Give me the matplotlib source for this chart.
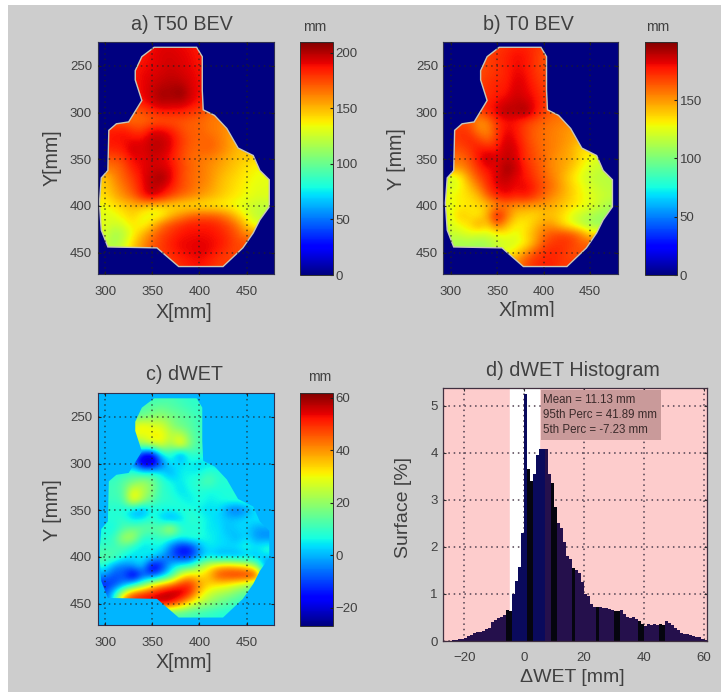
import numpy as np
import matplotlib
matplotlib.use('Agg')
import matplotlib.pyplot as plt
from matplotlib.patches import Polygon, Rectangle

plt.rcParams['font.family'] = ['Liberation Sans', 'DejaVu Sans']

W, H = 721, 692
GREY = '#cdcdcd'
TXT = '#404040'

# сетка карт, мм
grid_x = list(range(300, 490, 10))
grid_y = list(range(230, 480, 10))

# контур поля
outline_x = [352, 397, 403, 403, 404, 416, 429, 441, 457, 464, 474, 474, 464, 457, 446, 425, 378,
             355, 303, 296, 294, 296, 303, 304, 312, 325, 339, 332, 332, 339]
outline_y = [230, 230, 240, 276, 297, 303, 317, 338, 346, 362, 372, 401, 415, 429, 445, 465, 465,
             445, 444, 426, 397, 370, 362, 319, 312, 310, 287, 265, 255, 240]

t50_wet = [
    [185, 185, 185, 185, 185, 188, 192, 192, 190, 188, 186, 186, 186, 186, 186, 186, 186, 186, 186],
    [186, 186, 186, 186, 186, 190, 193, 194, 192, 190, 186, 186, 186, 186, 186, 186, 186, 186, 186],
    [185, 185, 185, 185, 188, 190, 193, 195, 193, 190, 187, 187, 187, 187, 187, 187, 187, 187, 187],
    [186, 186, 186, 186, 190, 192, 195, 197, 195, 192, 188, 188, 188, 188, 188, 188, 188, 188, 188],
    [186, 186, 186, 186, 190, 195, 198, 200, 200, 194, 188, 188, 188, 188, 188, 188, 188, 188, 188],
    [185, 185, 185, 185, 190, 196, 204, 202, 208, 196, 188, 188, 188, 188, 188, 188, 188, 188, 188],
    [186, 186, 186, 186, 186, 194, 200, 198, 198, 192, 186, 180, 180, 180, 180, 180, 180, 180, 180],
    [165, 165, 165, 168, 172, 180, 184, 184, 184, 180, 176, 168, 165, 165, 165, 165, 165, 165, 165],
    [172, 172, 170, 168, 168, 170, 172, 172, 172, 170, 168, 165, 163, 160, 160, 160, 160, 160, 160],
    [185, 185, 188, 180, 178, 192, 192, 186, 176, 170, 170, 165, 163, 158, 158, 158, 158, 158, 158],
    [187, 187, 188, 190, 190, 198, 198, 192, 180, 172, 168, 170, 165, 158, 150, 150, 150, 150, 150],
    [183, 183, 186, 196, 192, 198, 198, 190, 178, 170, 168, 170, 165, 158, 150, 148, 148, 148, 148],
    [172, 172, 178, 190, 190, 195, 192, 186, 176, 168, 165, 162, 158, 152, 148, 145, 142, 140, 140],
    [165, 165, 172, 185, 190, 195, 195, 190, 178, 170, 165, 160, 155, 150, 145, 140, 136, 134, 134],
    [145, 160, 170, 178, 190, 198, 205, 192, 176, 168, 165, 160, 152, 146, 142, 137, 134, 132, 132],
    [145, 155, 165, 175, 188, 200, 195, 186, 176, 170, 162, 158, 150, 145, 140, 136, 132, 131, 131],
    [140, 150, 160, 168, 185, 196, 186, 176, 168, 162, 158, 152, 148, 142, 138, 134, 130, 130, 130],
    [135, 140, 145, 150, 150, 145, 145, 142, 140, 140, 138, 138, 136, 135, 132, 128, 124, 122, 122],
    [130, 132, 140, 145, 135, 130, 132, 148, 158, 166, 170, 170, 168, 160, 145, 132, 122, 120, 120],
    [132, 125, 130, 140, 132, 145, 165, 175, 180, 185, 185, 185, 182, 175, 165, 145, 130, 130, 130],
    [128, 115, 120, 135, 150, 165, 175, 180, 186, 188, 188, 188, 185, 180, 172, 160, 160, 160, 160],
    [125, 115, 125, 145, 158, 170, 178, 185, 190, 190, 192, 190, 188, 182, 175, 175, 175, 175, 175],
    [125, 120, 130, 145, 160, 175, 178, 182, 188, 190, 192, 190, 184, 178, 175, 175, 175, 175, 175],
    [175, 175, 175, 175, 175, 175, 176, 178, 182, 186, 188, 184, 178, 178, 178, 178, 178, 178, 178],
    [175, 175, 175, 175, 175, 175, 176, 178, 182, 186, 188, 184, 178, 178, 178, 178, 178, 178, 178],
]

t0_wet = [
    [168, 168, 168, 168, 168, 170, 172, 175, 175, 172, 170, 165, 165, 165, 165, 165, 165, 165, 165],
    [168, 168, 168, 168, 168, 172, 175, 180, 178, 172, 165, 165, 165, 165, 165, 165, 165, 165, 165],
    [165, 165, 165, 165, 168, 172, 175, 180, 178, 172, 165, 165, 165, 165, 165, 165, 165, 165, 165],
    [165, 165, 165, 165, 170, 172, 175, 182, 180, 172, 168, 168, 168, 168, 168, 168, 168, 168, 168],
    [168, 168, 168, 168, 172, 175, 176, 184, 182, 175, 168, 168, 168, 168, 168, 168, 168, 168, 168],
    [172, 172, 172, 172, 172, 176, 178, 186, 182, 178, 170, 170, 170, 170, 170, 170, 170, 170, 170],
    [175, 175, 175, 175, 175, 180, 185, 188, 188, 180, 172, 165, 165, 165, 165, 165, 165, 165, 165],
    [165, 165, 165, 165, 175, 184, 192, 188, 195, 180, 170, 160, 160, 160, 160, 160, 160, 160, 160],
    [165, 165, 165, 150, 155, 172, 178, 178, 170, 165, 160, 158, 155, 155, 155, 155, 155, 155, 155],
    [172, 172, 170, 155, 152, 170, 182, 178, 168, 162, 158, 155, 152, 148, 148, 148, 148, 148, 148],
    [170, 170, 175, 170, 160, 172, 186, 180, 170, 162, 158, 155, 152, 148, 142, 142, 142, 142, 142],
    [165, 165, 170, 178, 178, 178, 188, 184, 172, 165, 158, 155, 150, 145, 135, 135, 135, 135, 135],
    [158, 158, 165, 178, 190, 182, 188, 184, 172, 165, 160, 152, 148, 145, 135, 128, 120, 120, 120],
    [150, 150, 160, 172, 180, 182, 195, 188, 176, 168, 160, 152, 148, 140, 130, 122, 118, 118, 118],
    [120, 128, 150, 165, 175, 185, 190, 182, 178, 170, 162, 155, 145, 135, 125, 118, 115, 115, 115],
    [122, 128, 140, 155, 172, 182, 185, 180, 182, 175, 165, 158, 148, 138, 130, 122, 118, 115, 115],
    [128, 132, 135, 142, 162, 175, 180, 175, 178, 170, 160, 152, 145, 138, 130, 125, 120, 118, 118],
    [125, 130, 132, 135, 140, 150, 155, 150, 150, 148, 148, 145, 140, 135, 130, 125, 118, 110, 110],
    [125, 140, 135, 130, 148, 182, 160, 140, 138, 135, 140, 140, 135, 125, 118, 112, 108, 108, 108],
    [122, 130, 135, 150, 138, 165, 145, 132, 130, 140, 150, 148, 135, 125, 115, 110, 105, 105, 105],
    [118, 120, 125, 122, 122, 128, 130, 125, 135, 145, 158, 165, 168, 165, 155, 135, 135, 135, 135],
    [112, 110, 110, 108, 110, 118, 122, 122, 130, 145, 165, 170, 172, 170, 162, 162, 162, 162, 162],
    [112, 110, 110, 108, 110, 120, 125, 135, 150, 165, 172, 175, 172, 165, 165, 165, 165, 165, 165],
    [150, 150, 150, 150, 150, 150, 150, 150, 165, 172, 175, 175, 170, 170, 170, 170, 170, 170, 170],
    [150, 150, 150, 150, 150, 150, 150, 150, 165, 172, 175, 175, 170, 170, 170, 170, 170, 170, 170],
]

dwet = [
    [10, 10, 10, 10, 10, 10, 11, 12, 10, 9, 9, 9, 9, 9, 9, 9, 9, 9, 9],
    [12, 12, 12, 12, 12, 14, 15, 13, 12, 10, 9, 9, 9, 9, 9, 9, 9, 9, 9],
    [14, 14, 14, 14, 15, 18, 20, 17, 15, 13, 10, 10, 10, 10, 10, 10, 10, 10, 10],
    [28, 28, 28, 28, 33, 28, 28, 20, 15, 14, 10, 10, 10, 10, 10, 10, 10, 10, 10],
    [32, 32, 32, 32, 28, 32, 32, 24, 26, 16, 11, 11, 11, 11, 11, 11, 11, 11, 11],
    [14, 14, 14, 14, 22, 26, 30, 20, 36, 18, 11, 11, 11, 11, 11, 11, 11, 11, 11],
    [0, 0, 0, 0, -14, -18, 6, 10, -6, 10, 9, 9, 9, 9, 9, 9, 9, 9, 9],
    [-5, -5, -5, -5, -24, -26, -8, 6, 3, 6, 3, 3, 3, 3, 3, 3, 3, 3, 3],
    [8, 8, 8, 11, 6, 8, 4, -2, 6, 5, 5, 10, 8, 8, 8, 8, 8, 8, 8],
    [10, 10, 14, 16, 22, 18, 10, 6, 4, 8, 10, 14, 8, 8, 8, 8, 8, 8, 8],
    [11, 11, 13, 32, 24, 18, 9, 8, 3, 6, 8, 6, 7, 7, 7, 7, 7, 7, 7],
    [10, 10, 12, 34, 22, 14, 9, 9, 7, 4, 8, 5, 6, 8, 9, 9, 9, 9, 9],
    [8, 8, 6, 0, -4, 6, 6, 6, 8, 8, 5, 3, 5, -4, -8, -3, 3, 3, 3],
    [8, 8, 10, 3, 5, 10, 2, -3, 2, 10, 8, 5, 3, 2, 2, 4, 5, 5, 5],
    [6, 6, 12, 16, 16, 14, 16, 28, 10, 6, 8, 4, 5, 0, 3, 3, -2, -2, -2],
    [8, 10, 24, 24, 8, 8, 10, 8, 6, 10, 8, 6, 4, 3, -1, 4, -3, -4, -4],
    [10, 10, 12, 6, 3, 5, 6, -6, -16, -15, -2, 5, 4, 3, 5, 8, 5, 9, 9],
    [14, 14, 7, 4, 6, 6, -2, -8, -14, -14, -2, 3, -2, -1, -3, 0, -1, 3, 3],
    [8, -3, -6, -2, 3, -22, -14, 2, 8, 10, 20, 30, 36, 38, 36, 32, 22, -6, -6],
    [-3, -10, -8, -24, -10, -10, -2, 8, 28, 36, 32, 36, 48, 50, 52, 52, 54, 10, 10],
    [-14, -10, -4, 6, 16, 30, 38, 44, 50, 52, 40, 34, 32, 30, 26, 22, 14, 14, 14],
    [-8, 5, 32, 48, 52, 54, 58, 60, 58, 50, 34, 26, 22, 20, 16, 13, 13, 13, 13],
    [-8, 5, 48, 50, 52, 54, 56, 52, 42, 30, 24, 20, 16, 13, 10, 10, 10, 10, 10],
    [10, 10, 10, 10, 10, 12, 12, 12, 12, 11, 10, 9, 8, 7, 7, 7, 7, 7, 7],
    [10, 10, 10, 10, 10, 12, 12, 12, 12, 11, 10, 9, 8, 7, 7, 7, 7, 7, 7],
]

# гистограмма dWET
hist_left = list(range(-25, 61))
hist_surface = [
    0.01, 0.02, 0.03, 0.04, 0.05, 0.07, 0.10, 0.12, 0.16, 0.19, 0.19, 0.21, 0.25, 0.28, 0.40, 0.44,
    0.49, 0.51, 0.55, 0.66, 0.64, 1.00, 1.28, 1.58, 2.30, 5.25, 3.65, 3.40, 3.55, 3.95, 4.07, 4.07,
    4.07, 3.55, 3.35, 2.85, 2.50, 2.40, 2.10, 1.80, 1.75, 1.55, 1.50, 1.45, 1.25, 1.00, 0.95, 0.78,
    0.72, 0.73, 0.72, 0.70, 0.70, 0.68, 0.66, 0.64, 0.63, 0.65, 0.58, 0.50, 0.49, 0.50, 0.46, 0.42,
    0.37, 0.32, 0.36, 0.35, 0.36, 0.35, 0.36, 0.35, 0.42, 0.39, 0.35, 0.28, 0.24, 0.16, 0.15, 0.14,
    0.13, 0.11, 0.09, 0.08, 0.05, 0.03,
]
hist_lines = ['Mean = 11.13 mm', '95th Perc = 41.89 mm', '5th Perc = -7.23 mm']
dark_bands = [-6, -5, 1, 2, 9, 10, 16, 24, 30, 31, 38, 39, 45, 46]


def px_axes(x0, y0, x1, y1):
    return fig.add_axes([x0 / W, 1 - y1 / H, (x1 - x0) / W, (y1 - y0) / H])


def px_text(x, y, s, **kw):
    kw.setdefault('color', TXT)
    kw.setdefault('ha', 'center')
    kw.setdefault('va', 'center')
    fig.text(x / W, 1 - y / H, s, **kw)


def wet_map(box, cbox, values, vmin, vmax, cticks, xlim, ylim, edge):
    ax = px_axes(*box)
    cmap = plt.get_cmap('jet')
    norm = plt.Normalize(vmin, vmax)
    ax.set_facecolor(cmap(norm(0)))
    im = ax.imshow(values, cmap=cmap, norm=norm, interpolation='bicubic', aspect='auto',
                   extent=[295, 485, 475, 225], zorder=1)
    field = Polygon(list(zip(outline_x, outline_y)), closed=True, transform=ax.transData,
                    fc='none', ec=edge if edge else 'none', lw=1.0, zorder=2)
    ax.add_patch(field)
    im.set_clip_path(field)
    ax.set_xlim(*xlim)
    ax.set_ylim(*ylim)
    ax.set_xticks([300, 350, 400, 450])
    ax.set_yticks([250, 300, 350, 400, 450])
    ax.grid(True, color='#202020', linestyle=(0, (1, 2.5)), linewidth=1.1, alpha=0.7, zorder=3)
    ax.tick_params(direction='in', length=2.5, top=True, right=True, labelsize=9.5,
                   labelcolor=TXT, color='#202020', pad=4)
    ax.tick_params(axis='x', pad=9)
    ax.set_axisbelow(False)
    for s in ax.spines.values():
        s.set_color('#303050')
        s.set_linewidth(0.8)
    cax = px_axes(*cbox)
    cb = fig.colorbar(im, cax=cax)
    cb.set_ticks(cticks)
    cb.ax.tick_params(direction='in', length=2, labelsize=9.5, labelcolor=TXT, color='#202020', pad=2)
    cb.outline.set_edgecolor('#303030')
    cb.outline.set_linewidth(0.7)


fig = plt.figure(figsize=(W / 100, H / 100), dpi=100, facecolor='white')
fig.add_artist(Rectangle((8 / W, 0), 1, 1 - 5 / H, transform=fig.transFigure, fc=GREY, ec='none', zorder=-5))

t50 = np.array(t50_wet)
t0 = np.array(t0_wet)
dw = np.array(dwet)

xl = (292, 479)
yl = (473, 224)
wet_map((97.5, 41.7, 274, 274), (300, 41.7, 333, 275), t50, 0, 210, [0, 50, 100, 150, 200], xl, yl, '#c8c8b8')
wet_map((443.5, 41.7, 618, 274), (645, 41.7, 677, 275), t0, 0, 200, [0, 50, 100, 150], (292, 480), yl, '#c8c8b8')
wet_map((97.5, 392.7, 274, 625), (300, 392.7, 333, 626), dw, -27, 62, [-20, 0, 20, 40, 60], xl, yl, None)

# d) гистограмма
ax = px_axes(443.5, 388.3, 706.7, 641)
ax.set_facecolor('#fdcccc')
ax.axvspan(-4.7, 5, color='white', zorder=0)
colors = []
for left in hist_left:
    if left in dark_bands:
        colors.append('#05050f')
    elif -5 <= left < 7:
        colors.append('#0a0a5c')
    else:
        colors.append('#25104c')
ax.bar(hist_left, hist_surface, width=1.0, align='edge', color=colors, zorder=2)
ax.set_xlim(-26.9, 61)
ax.set_ylim(0, 5.37)
ax.set_xticks([-20, 0, 20, 40, 60])
ax.set_yticks([0, 1, 2, 3, 4, 5])
ax.grid(True, color='#504050', linestyle=(0, (1, 2.5)), linewidth=1.1, zorder=1)
ax.set_axisbelow(True)
ax.tick_params(direction='in', length=2.5, top=True, right=True, labelsize=9.5, labelcolor=TXT,
               color='#303030', pad=4)
ax.tick_params(axis='x', pad=8)
for s in ax.spines.values():
    s.set_color('#403040')
    s.set_linewidth(0.9)
ax.add_patch(Rectangle((5.6, 4.27), 40.3, 1.06, fc='#c99a9a', ec='none', zorder=3))
for line, yy in zip(hist_lines, [5.12, 4.8, 4.48]):
    ax.text(6.2, yy, line, fontsize=8.3, color='#3a2a2a', va='center', ha='left', zorder=4)

# подписи
for x, y, s in [(182, 24, 'a) T50 BEV'), (528, 24, 'b) T0 BEV'), (184, 374, 'c) dWET'), (573, 370, 'd) dWET Histogram')]:
    px_text(x, y, s, fontsize=14.2)
for x, y in [(315, 27), (658, 27), (320, 377)]:
    px_text(x, y, 'mm', fontsize=10)
for x, y in [(184, 312), (527, 311), (184, 663)]:
    px_text(x, y, 'X[mm]', fontsize=14.2)
# нижний край подписи на панели b обрезан
fig.add_artist(Rectangle((490 / W, 1 - 326 / H), 80 / W, 9 / H, transform=fig.transFigure, fc=GREY, ec='none', zorder=10))
px_text(52, 158, 'Y[mm]', fontsize=14.2, rotation=90)
px_text(397, 159, 'Y [mm]', fontsize=14.2, rotation=90)
px_text(52, 510, 'Y [mm]', fontsize=14.2, rotation=90)
px_text(403, 507, 'Surface [%]', fontsize=14, rotation=90)
px_text(572, 677, 'ΔWET [mm]', fontsize=14)

fig.savefig('out.png', dpi=100, facecolor=fig.get_facecolor())
